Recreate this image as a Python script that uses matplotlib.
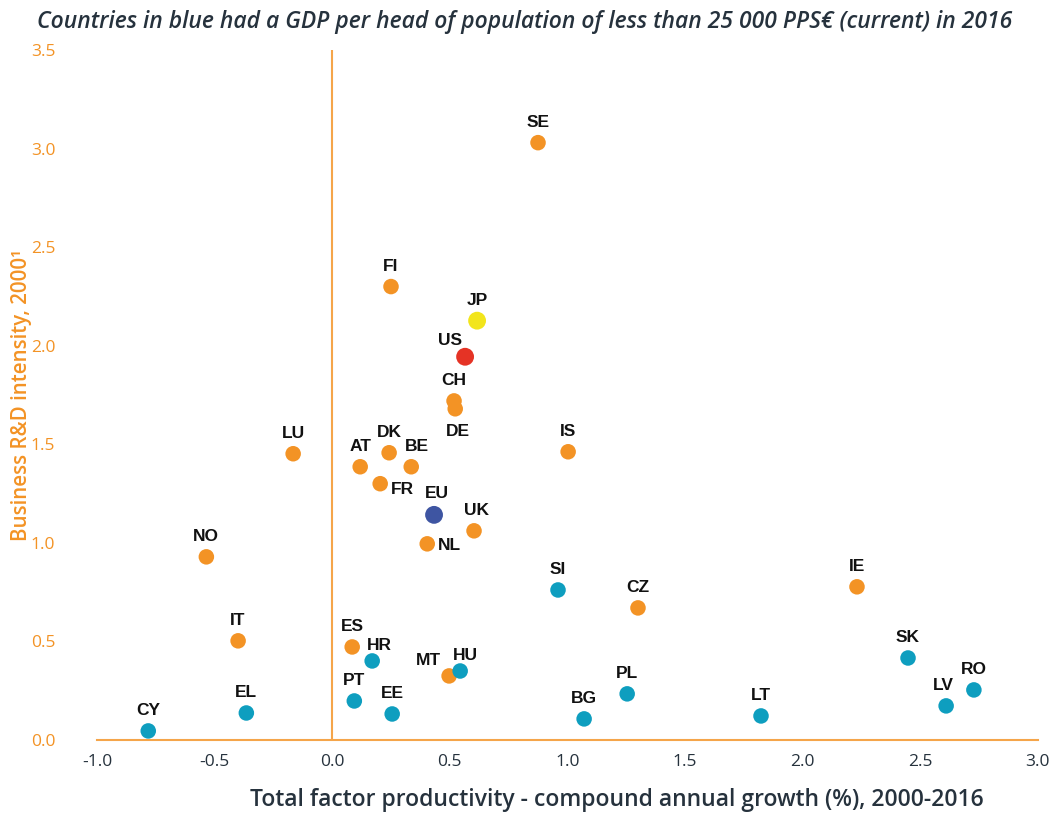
import matplotlib
matplotlib.use("Agg")
import matplotlib.pyplot as plt

countries = ["SE", "FI", "JP", "US", "CH", "DE", "LU", "AT", "DK", "BE", "FR", "IS",
             "EU", "UK", "NL", "NO", "SI", "CZ", "IE", "IT", "ES", "HR", "MT", "HU",
             "PT", "EE", "BG", "PL", "LT", "SK", "LV", "RO", "CY", "EL"]
tfp_growth = [0.875, 0.25, 0.616, 0.565, 0.518, 0.523, -0.166, 0.119, 0.242, 0.336, 0.204, 1.003,
              0.433, 0.603, 0.404, -0.535, 0.96, 1.30, 2.231, -0.40, 0.085, 0.17, 0.497, 0.544,
              0.094, 0.255, 1.071, 1.254, 1.823, 2.448, 2.61, 2.728, -0.782, -0.365]
rd_intensity = [3.03, 2.30, 2.127, 1.944, 1.72, 1.68, 1.452, 1.386, 1.457, 1.386, 1.30, 1.462,
                1.142, 1.061, 0.995, 0.929, 0.761, 0.670, 0.777, 0.503, 0.472, 0.401, 0.325, 0.350,
                0.198, 0.132, 0.107, 0.234, 0.122, 0.416, 0.173, 0.254, 0.046, 0.137]
group = ["high", "high", "JP", "US", "high", "high", "high", "high", "high", "high", "high", "high",
         "EU", "high", "high", "high", "low", "high", "high", "high", "high", "low", "high", "low",
         "low", "low", "low", "low", "low", "low", "low", "low", "low", "low"]

colors = {"high": "#F39325", "low": "#0E9EBF", "EU": "#3E55A2", "US": "#E53325", "JP": "#F2E51B"}
sizes = {"high": 125, "low": 125, "EU": 165, "US": 165, "JP": 165}

# label offsets in points (dx, dy, ha, va)
offsets = {
    "DE": (2, -11, "center", "top"),
    "FR": (8, -4, "left", "center"),
    "NL": (8, -1, "left", "center"),
    "MT": (-6, 6, "right", "bottom"),
    "HU": (4, 6, "center", "bottom"),
    "BE": (4, 9, "center", "bottom"),
    "US": (-11, 6, "center", "bottom"),
    "HR": (5, 6, "center", "bottom"),
    "EU": (2, 10, "center", "bottom"),
    "UK": (2, 9, "center", "bottom"),
    "LV": (-2, 9, "center", "bottom"),
    "RO": (0, 9, "center", "bottom"),
}

fig = plt.figure(figsize=(10.61, 8.13), dpi=100)
ax = fig.add_axes([0.0914, 0.0898, 0.8868, 0.8487])

for c, x, y, g in zip(countries, tfp_growth, rd_intensity, group):
    ax.scatter(x, y, s=sizes[g], color=colors[g], edgecolors="none", zorder=3)
    dx, dy, ha, va = offsets.get(c, (0, 9, "center", "bottom"))
    ax.annotate(c, (x, y), xytext=(dx, dy), textcoords="offset points", ha=ha, va=va,
                fontsize=12.5, fontweight="bold", color="#111111",
                family=["Liberation Sans", "DejaVu Sans"], zorder=4)

ax.set_xlim(-1.0, 3.0)
ax.set_ylim(0.0, 3.5)
ax.set_xticks([-1.0, -0.5, 0.0, 0.5, 1.0, 1.5, 2.0, 2.5, 3.0])
ax.set_yticks([0.0, 0.5, 1.0, 1.5, 2.0, 2.5, 3.0, 3.5])
ax.set_xticklabels([f"{v:.1f}" for v in ax.get_xticks()])
ax.set_yticklabels([f"{v:.1f}" for v in ax.get_yticks()])

orange = "#F39325"
dark = "#26323d"
for s in ["top", "right", "left"]:
    ax.spines[s].set_visible(False)
ax.spines["bottom"].set_color("#F5A54A")
ax.spines["bottom"].set_linewidth(1.5)
ax.axvline(0, color="#F5A54A", linewidth=1.5, zorder=1)

tick_font = ["Open Sans", "DejaVu Sans"]
ax.tick_params(axis="both", length=0, labelsize=12.5)
ax.tick_params(axis="x", pad=10, labelcolor=dark)
ax.tick_params(axis="y", pad=30, labelcolor=orange)
for lab in ax.get_xticklabels() + ax.get_yticklabels():
    lab.set_family(tick_font)

fig.text(0.581, 0.016, "Total factor productivity - compound annual growth (%), 2000-2016",
         fontsize=16.5, color=dark, family=tick_font, fontweight="semibold",
         ha="center", va="center")
ax.set_ylabel("Business R&D intensity, 2000\u00b9", fontsize=14.8, color=orange,
              family=tick_font, fontweight="semibold", labelpad=-1)

fig.text(0.035, 0.973, "Countries in blue had a GDP per head of population of less than 25 000 PPS\u20ac (current) in 2016",
         fontsize=16.5, style="italic", color=dark, family=tick_font, fontweight="semibold",
         va="center", ha="left")

fig.savefig("out.png", dpi=100)
